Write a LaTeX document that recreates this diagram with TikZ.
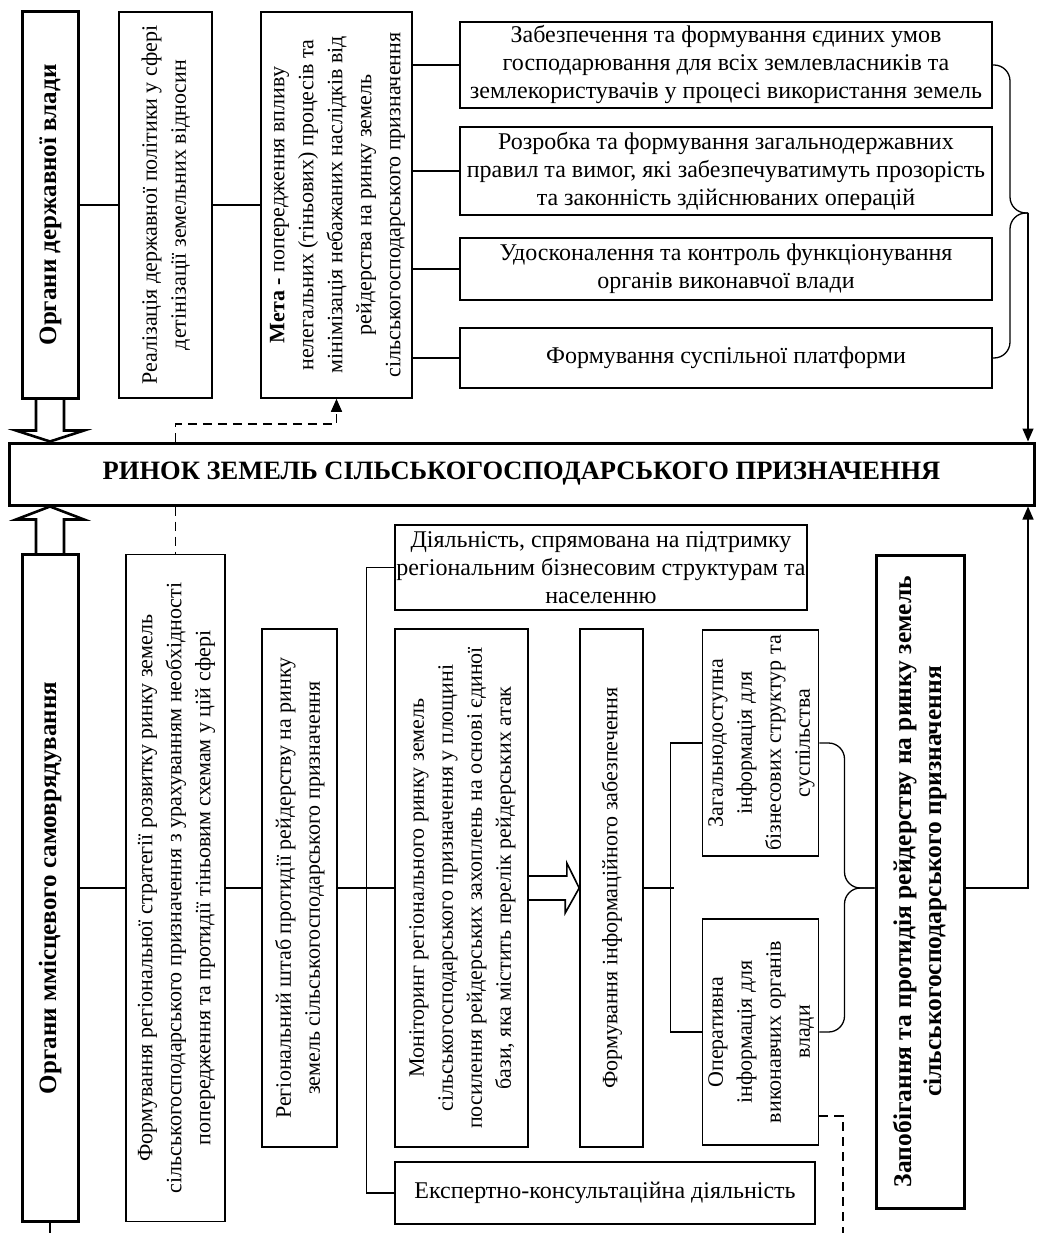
\documentclass[tikz,border=0pt]{standalone}
\usepackage{fontspec}
\setmainfont{Liberation Serif}
\usepackage{graphicx}
\usetikzlibrary{arrows,arrows.meta,positioning,calc}
\newcommand{\rottext}[1]{\rotatebox{90}{\begin{tabular}{@{}c@{}}#1\end{tabular}}}

\begin{document}
\begin{tikzpicture}
[x=1pt,y=-1pt,
box/.style={draw=black,line width=1.6pt,inner sep=0pt,align=center,font=\fontsize{24}{28}\selectfont},
vbox/.style={draw=black,line width=1.6pt,inner sep=0pt,font=\fontsize{22}{29}\selectfont},
heavy/.style={draw=black,line width=3pt,inner sep=0pt,align=center,font=\bfseries\fontsize{25}{30}\selectfont},
link/.style={line width=1.3pt},
hollow/.style={line width=2.6pt,line join=miter},
dashln/.style={line width=1.6pt,dash pattern=on 9pt off 6pt},
arr/.style={-{Triangle[length=13pt,width=11pt]}}]

\useasboundingbox (0,0) rectangle (1036,1233);

\coordinate (lvl) at (0,888);
\coordinate (bot) at (0,1233);
\coordinate (dend) at (843,1233);

\node[heavy,minimum width=56,minimum height=386] (orgdv) at (50,205) {\rottext{Органи державної влади}};
\node[vbox,minimum width=93,minimum height=386] (realiz) at (165.5,205) {\rottext{Реалізація державної політики у сфері\\детінізації земельних відносин}};
\node[vbox,minimum width=151,minimum height=386] (meta) at (336.5,205) {\rottext{\textbf{Мета -} попередження впливу\\нелегальних (тіньових) процесів та\\мінімізація небажаних наслідків від\\рейдерства на ринку земель\\сільськогосподарського призначення}};

\node[box,minimum width=532,minimum height=86] (zab) at (726,65) {Забезпечення та формування єдиних умов\\господарювання для всіх землевласників та\\землекористувачів у процесі використання земель};
\node[box,minimum width=532,minimum height=88] (rozr) at (726,171) {Розробка та формування загальнодержавних\\правил та вимог, які забезпечуватимуть прозорість\\та законність здійснюваних операцій};
\node[box,minimum width=532,minimum height=62] (udos) at (726,269) {Удосконалення та контроль функціонування\\органів виконавчої влади};
\node[box,minimum width=532,minimum height=60] (suspl) at (726,358) {Формування суспільної платформи};

\node[heavy,minimum width=1025,minimum height=62,font=\bfseries\fontsize{26.5}{30}\selectfont] (rynok) at (521.5,474) {РИНОК ЗЕМЕЛЬ СІЛЬСЬКОГОСПОДАРСЬКОГО ПРИЗНАЧЕННЯ};

\node[heavy,minimum width=56,minimum height=667] (orgms) at (50,888) {\rottext{Органи ммісцевого самоврядування}};
\node[vbox,minimum width=99,minimum height=667] (strat) at (175.5,888) {\rottext{Формування регіональної стратегії розвитку ринку земель\\сільськогосподарського призначення з урахуванням необхідності\\попередження та протидії тіньовим схемам у цій сфері}};
\node[vbox,minimum width=75,minimum height=518] (shtab) at (299.5,888) {\rottext{Регіональний штаб протидії рейдерству на ринку\\земель сільськогосподарського призначення}};
\node[box,minimum width=412,minimum height=85] (diyal) at (601,567.5) {Діяльність, спрямована на підтримку\\регіональним бізнесовим структурам та\\населенню};
\node[vbox,minimum width=133,minimum height=518] (monit) at (461.5,888) {\rottext{Моніторинг регіонального ринку земель\\сільськогосподарського призначення у площині\\посилення рейдерських захоплень на основі єдиної\\бази, яка містить перелік рейдерських атак}};
\node[vbox,minimum width=63,minimum height=518] (forminf) at (611.5,888) {\rottext{Формування інформаційного забезпечення}};
\node[vbox,minimum width=113,minimum height=226] (zagal) at (760.5,743) {\rottext{Загальнодоступна\\інформація для\\бізнесових структур та\\суспільства}};
\node[vbox,minimum width=113,minimum height=226] (operat) at (760.5,1032) {\rottext{Оперативна\\інформація для\\виконавчих органів\\влади}};
\node[box,minimum width=420,minimum height=62] (ekspert) at (605,1193) {Експертно-консультаційна діяльність};
\node[heavy,minimum width=88,minimum height=653,font=\bfseries\fontsize{25.5}{30}\selectfont] (zapob) at (920,881.5) {\rottext{Запобігання та протидія рейдерству на ринку земель\\сільськогосподарського призначення}};

\draw[link] (orgdv.east) -- (realiz.west);
\draw[link] (realiz.east) -- (meta.west);
\draw[link] (meta.east |- zab.west) -- (zab.west);
\draw[link] (meta.east |- rozr.west) -- (rozr.west);
\draw[link] (meta.east |- udos.west) -- (udos.west);
\draw[link] (meta.east |- suspl.west) -- (suspl.west);

\coordinate (tipA) at (1028,213);
\draw[link,rounded corners=16pt] (zab.east) -| ($(tipA)+(-18,0)$) -- (tipA);
\draw[link,rounded corners=16pt] (tipA) -- ++(-18,0) |- (suspl.east);
\draw[link,arr] (tipA) -- (tipA |- rynok.north);

\draw[hollow] ($(orgdv.south)+(-14,0)$) -- ($(orgdv.south |- rynok.north)+(-14,-11)$) -- ++(-20,0) -- (orgdv.south |- rynok.north) -- ++(34,-11) -- ++(-20,0) -- ($(orgdv.south)+(14,0)$);
\draw[hollow] ($(orgms.north)+(-14,0)$) -- ($(orgms.north |- rynok.south)+(-14,13)$) -- ++(-20,0) -- (orgms.north |- rynok.south) -- ++(34,13) -- ++(-20,0) -- ($(orgms.north)+(14,0)$);

\draw[dashln,arr] (rynok.north -| strat.north) |- ($(meta.south)+(0,25)$) -- (meta.south);
\draw[dashln] (rynok.south -| strat.north) -- (strat.north);

\draw[link] (orgms.east) -- (strat.west);
\draw[link] (strat.east) -- (shtab.west);
\draw[link] (shtab.east) -- (monit.west);
\draw[link] (diyal.west) -- ++(-28,0) |- (ekspert.west);

\draw[line width=1.6pt,line join=miter] ($(monit.east)+(0,-12)$) -- ++(38,0) -- ++(0,-13) -- (forminf.west) -- ++(-14,25) -- ++(0,-13) -- ($(monit.east)+(0,12)$);

\draw[link] (forminf.east) -- ++(30,0);
\draw[link] (zagal.west) -- ++(-31,0) |- (operat.west);

\coordinate (tipB) at (zapob.west |- lvl);
\draw[link,rounded corners=16pt] (zagal.east) -| ($(tipB)+(-30,0)$) -- (tipB);
\draw[link,rounded corners=16pt] (tipB) -- ++(-30,0) |- (operat.east);
\draw[link,arr] (zapob.east |- lvl) -| (tipA |- rynok.south);

\draw[dashln] ($(operat.south east)+(0,-30)$) -| (dend);
\draw[link] (orgms.south) -- (orgms.south |- bot);
\end{tikzpicture}
\end{document}
